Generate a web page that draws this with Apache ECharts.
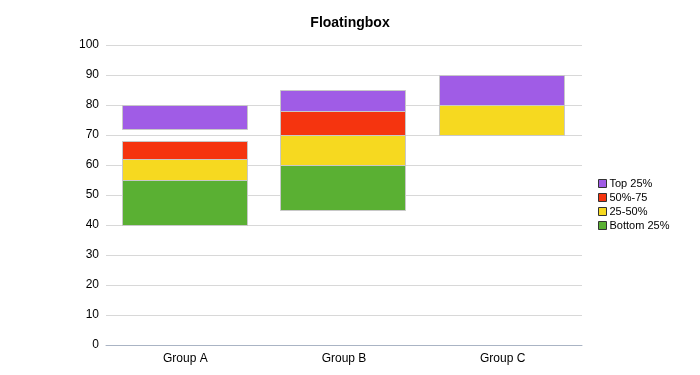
<!DOCTYPE html>
<html>
<head>
<meta charset="utf-8">
<script src="https://cdn.jsdelivr.net/npm/echarts@6/dist/echarts.min.js"></script>
<style>
  html, body { margin: 0; padding: 0; background: #fff; }
  #chart { width: 700px; height: 375px; }
</style>
</head>
<body>
<div id="chart"></div>
<script>
// categories and floating ranges [low, high]; null = no segment
var categories = ['Group A', 'Group B', 'Group C'];
var bottom25 = [[40, 55], [45, 60], null];
var q25to50 = [[55, 62], [60, 70], [70, 80]];
var q50to75 = [[62, 68], [70, 78], null];
var top25 = [[72, 80], [78, 85], [80, 90]];

var names = ['Top 25%', '50%-75', '25-50%', 'Bottom 25%'];
var colors = { 'Top 25%': '#a05ce6', '50%-75': '#f5340f', '25-50%': '#f6d920', 'Bottom 25%': '#5ab033' };
var ranges = { 'Top 25%': top25, '50%-75': q50to75, '25-50%': q25to50, 'Bottom 25%': bottom25 };

function toData(arr) {
	var out = [];
	for (var i = 0; i < arr.length; i++) {
		if (arr[i]) out.push([i, arr[i][0], arr[i][1]]);
	}
	return out;
}

function makeSeries(name) {
	var col = colors[name];
	return {
		name : name,
		type : 'custom',
		itemStyle : { color : col },
		encode : { x : 0, y : [1, 2] },
		data : toData(ranges[name]),
		renderItem : function(params, api) {
			var idx = api.value(0);
			var lo = api.coord([idx, api.value(1)]);
			var hi = api.coord([idx, api.value(2)]);
			var w = api.size([1, 0])[0] * 0.788;
			return {
				type : 'rect',
				shape : { x : Math.round(lo[0] - w / 2) - 0.5, y : Math.round(hi[1]) + 0.5, width : Math.round(w), height : Math.round(lo[1] - hi[1]) },
				style : { fill : col, stroke : '#c8c8c8', lineWidth : 1 }
			};
		}
	};
}

var series = [];
// draw bottom first so upper borders sit on top
for (var k = names.length - 1; k >= 0; k--) series.push(makeSeries(names[k]));

var myChart = echarts.init(document.getElementById('chart'));
var option = {
	animation : false,
	textStyle : { fontFamily : 'Liberation Sans, Arial, sans-serif' },
	title : {
		text : 'Floatingbox',
		left : 345,
		textAlign : 'center',
		top : 11,
		textStyle : { fontSize : 14, fontWeight : 'bold', color : '#000' }
	},
	legend : {
		data : names,
		orient : 'vertical',
		left : 593,
		top : 173,
		itemWidth : 8,
		itemHeight : 8,
		itemGap : 3,
		icon : 'rect',
		itemStyle : { borderColor : '#333', borderWidth : 1 },
		textStyle : { fontSize : 11, color : '#000', padding : [0, 0, 0, -2] }
	},
	grid : { left : 106, right : 118, top : 45, bottom : 30 },
	xAxis : {
		type : 'category',
		data : categories,
		axisLine : { lineStyle : { color : '#aab4c4' } },
		axisTick : { alignWithLabel : true, length : 5, lineStyle : { color : '#aab4c4' } },
		axisLabel : { color : '#000', fontSize : 12, margin : 8 }
	},
	yAxis : {
		type : 'value',
		min : 0,
		max : 100,
		interval : 10,
		axisLine : { show : false },
		axisTick : { show : false },
		axisLabel : { color : '#000', fontSize : 12, margin : 7 },
		splitLine : { lineStyle : { color : '#d8d8d8' } }
	},
	series : series
};
myChart.setOption(option);
</script>
</body>
</html>
